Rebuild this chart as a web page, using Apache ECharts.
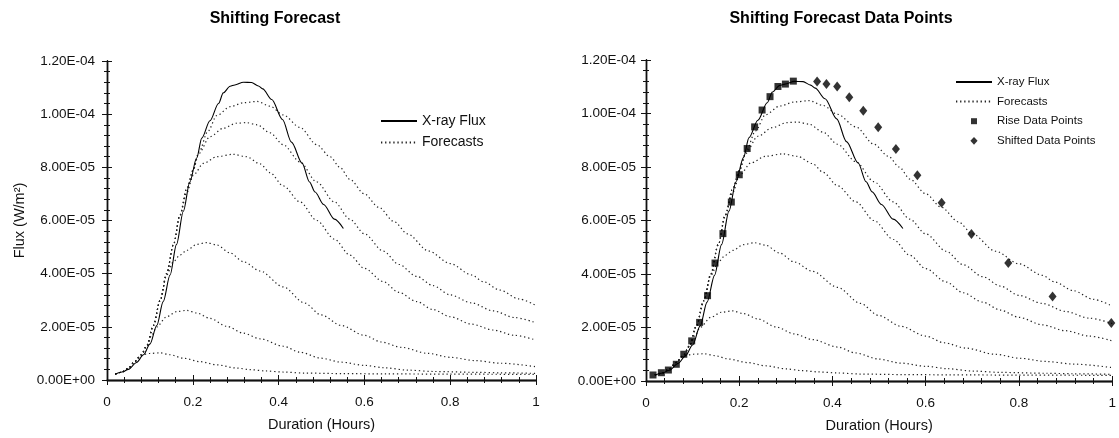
<!DOCTYPE html>
<html>
<head>
<meta charset="utf-8">
<script src="https://cdn.jsdelivr.net/npm/echarts@6/dist/echarts.min.js"></script>
<style>html,body{margin:0;padding:0;background:#fff}#c{width:1119px;height:438px}</style>
</head>
<body>
<div id="c"></div>
<script>
// Values: x = duration (hours), y = flux in units of 1e-5 W/m^2
const xTicks = [0, 0.2, 0.4, 0.6, 0.8, 1];
const yTicks = [0, 2, 4, 6, 8, 10, 12]; // ×1e-5

const xrayFlux = [[0.019,0.22],[0.035,0.3],[0.05,0.4],[0.069,0.66],[0.085,0.95],[0.1,1.35],[0.116,2.05],[0.131,2.95],[0.147,3.95],[0.162,5.1],[0.178,6.35],[0.193,7.45],[0.209,8.35],[0.221,9.1],[0.24,9.75],[0.26,10.4],[0.271,10.8],[0.287,11.05],[0.298,11.1],[0.318,11.2],[0.337,11.19],[0.353,11.06],[0.363,10.95],[0.384,10.55],[0.409,9.8],[0.43,8.95],[0.455,8.15],[0.472,7.45],[0.485,7.07],[0.505,6.6],[0.53,6.05],[0.551,5.7]];

const forecast1 = [[0.019,0.22],[0.035,0.3],[0.05,0.45],[0.065,0.7],[0.077,0.9],[0.09,0.97],[0.1,1.0],[0.124,1.02],[0.147,0.95],[0.178,0.82],[0.217,0.69],[0.256,0.57],[0.302,0.45],[0.333,0.39],[0.37,0.34],[0.41,0.3],[0.46,0.26],[0.55,0.24],[0.65,0.23],[0.8,0.22],[1.0,0.21]];
const forecast2 = [[0.019,0.22],[0.035,0.3],[0.05,0.45],[0.065,0.7],[0.08,0.95],[0.093,1.3],[0.105,1.7],[0.116,2.0],[0.139,2.38],[0.162,2.57],[0.186,2.62],[0.209,2.52],[0.24,2.32],[0.279,2.02],[0.318,1.76],[0.357,1.55],[0.411,1.27],[0.449,1.05],[0.499,0.82],[0.546,0.67],[0.6,0.55],[0.647,0.46],[0.701,0.37],[0.763,0.32],[0.857,0.29],[0.919,0.27],[1.0,0.25]];
const forecast3 = [[0.019,0.22],[0.035,0.3],[0.05,0.45],[0.065,0.7],[0.08,0.95],[0.093,1.3],[0.108,2.05],[0.124,3.0],[0.139,3.95],[0.155,4.45],[0.17,4.7],[0.186,4.88],[0.209,5.1],[0.232,5.17],[0.256,5.08],[0.287,4.78],[0.318,4.45],[0.357,4.1],[0.411,3.5],[0.46,2.9],[0.499,2.45],[0.546,2.05],[0.6,1.68],[0.639,1.43],[0.686,1.23],[0.748,1.0],[0.802,0.85],[0.857,0.73],[0.919,0.63],[1.0,0.5]];
const forecast4 = [[0.019,0.22],[0.035,0.3],[0.05,0.45],[0.065,0.7],[0.08,0.95],[0.093,1.3],[0.108,2.05],[0.124,3.0],[0.139,4.0],[0.155,5.1],[0.17,6.2],[0.186,7.05],[0.201,7.7],[0.225,8.15],[0.256,8.4],[0.294,8.49],[0.325,8.4],[0.357,8.13],[0.38,7.8],[0.411,7.3],[0.45,6.7],[0.489,6.0],[0.53,5.3],[0.566,4.7],[0.6,4.2],[0.644,3.7],[0.68,3.3],[0.722,2.95],[0.76,2.65],[0.8,2.38],[0.85,2.1],[0.9,1.88],[0.95,1.68],[1.0,1.5]];
const forecast5 = [[0.019,0.22],[0.035,0.3],[0.05,0.45],[0.065,0.7],[0.08,0.95],[0.093,1.3],[0.108,2.05],[0.124,3.0],[0.139,4.0],[0.155,5.1],[0.17,6.2],[0.186,7.2],[0.201,7.9],[0.213,8.5],[0.24,9.15],[0.271,9.47],[0.302,9.66],[0.325,9.68],[0.35,9.6],[0.38,9.3],[0.411,8.85],[0.45,8.2],[0.489,7.45],[0.53,6.7],[0.566,6.05],[0.6,5.5],[0.644,4.85],[0.68,4.35],[0.722,3.9],[0.76,3.55],[0.8,3.2],[0.85,2.9],[0.9,2.6],[0.95,2.35],[1.0,2.15]];
const forecast6 = [[0.019,0.22],[0.035,0.3],[0.05,0.45],[0.065,0.7],[0.08,0.95],[0.093,1.3],[0.108,2.05],[0.124,3.0],[0.139,4.0],[0.155,5.1],[0.17,6.2],[0.186,7.2],[0.201,7.9],[0.215,8.6],[0.235,9.35],[0.256,9.95],[0.287,10.28],[0.318,10.43],[0.35,10.48],[0.38,10.3],[0.411,9.97],[0.45,9.5],[0.489,8.85],[0.52,8.4],[0.543,8.0],[0.566,7.55],[0.6,7.0],[0.633,6.5],[0.67,5.95],[0.7,5.5],[0.75,4.85],[0.8,4.38],[0.85,3.95],[0.877,3.7],[0.916,3.38],[0.96,3.05],[1.0,2.8]];

const riseDataPoints = [[0.015,0.225],[0.033,0.31],[0.048,0.41],[0.065,0.625],[0.081,1.0],[0.098,1.5],[0.115,2.19],[0.132,3.19],[0.148,4.41],[0.165,5.51],[0.183,6.69],[0.2,7.71],[0.217,8.69],[0.233,9.5],[0.249,10.13],[0.266,10.63],[0.283,11.01],[0.299,11.1],[0.316,11.21]];
const shiftedDataPoints = [[0.367,11.2],[0.387,11.1],[0.41,11.01],[0.436,10.61],[0.466,10.1],[0.498,9.49],[0.536,8.675],[0.582,7.69],[0.634,6.66],[0.698,5.5],[0.777,4.41],[0.872,3.16],[0.998,2.17]];

const forecasts = [forecast1, forecast2, forecast3, forecast4, forecast5, forecast6];

const FONT = '"Liberation Sans", Arial, Helvetica, sans-serif';
const INK = '#111';
const SCALE = 1e-5;

function fmtY(v) {
  const s = (v * SCALE).toExponential(2).toUpperCase();
  return s.replace(/E([+-])(\d)$/, 'E$10$2');
}

function xAxesFor(gi, withName) {
  const base = { gridIndex: gi, type: 'value', min: xTicks[0], max: xTicks[xTicks.length-1], interval: xTicks[1]-xTicks[0], splitLine: { show: false } };
  return [
    Object.assign({}, base, {
      position: 'bottom',
      axisLine: { show: true, lineStyle: { color: INK, width: 1.3 } },
      axisTick: { show: true, inside: true, length: 5, lineStyle: { color: INK } },
      minorTick: { show: true, splitNumber: 5, length: 3, lineStyle: { color: INK } },
      axisLabel: { margin: 15, color: INK, fontSize: 13.5, fontFamily: FONT },
      name: withName, nameLocation: 'middle', nameGap: 37,
      nameTextStyle: { color: INK, fontSize: 14.5, fontFamily: FONT }
    }),
    Object.assign({}, base, {
      position: 'bottom',
      axisLine: { show: true, lineStyle: { color: INK, width: 1.3 } },
      axisTick: { show: true, inside: false, length: 4, lineStyle: { color: INK } },
      axisLabel: { show: false }
    }),
    Object.assign({}, base, {
      position: 'top',
      axisLine: { show: true, lineStyle: { color: INK, width: 1.3 } },
      axisTick: { show: true, inside: true, length: 5, lineStyle: { color: INK } },
      minorTick: { show: true, splitNumber: 5, length: 3, lineStyle: { color: INK } },
      axisLabel: { show: false }
    })
  ];
}
function yAxesFor(gi, name, labelMargin) {
  const base = { gridIndex: gi, type: 'value', min: yTicks[0], max: yTicks[yTicks.length-1], interval: yTicks[1]-yTicks[0], splitLine: { show: false } };
  return [
    Object.assign({}, base, {
      position: 'left',
      axisLine: { show: true, lineStyle: { color: INK, width: 1.3 } },
      axisTick: { show: true, inside: true, length: 5, lineStyle: { color: INK } },
      minorTick: { show: true, splitNumber: 5, length: 3, lineStyle: { color: INK } },
      axisLabel: { margin: labelMargin, color: INK, fontSize: 13.5, fontFamily: FONT, formatter: fmtY },
      name: name, nameLocation: 'middle', nameGap: 80, nameRotate: 90,
      nameTextStyle: { color: INK, fontSize: 14.5, fontFamily: FONT }
    }),
    Object.assign({}, base, {
      position: 'left',
      axisLine: { show: true, lineStyle: { color: INK, width: 1.3 } },
      axisTick: { show: true, inside: false, length: 4, lineStyle: { color: INK } },
      axisLabel: { show: false }
    }),
    Object.assign({}, base, {
      position: 'right',
      axisLine: { show: true, lineStyle: { color: INK, width: 1.3 } },
      axisTick: { show: true, inside: true, length: 5, lineStyle: { color: INK } },
      minorTick: { show: true, splitNumber: 5, length: 3, lineStyle: { color: INK } },
      axisLabel: { show: false }
    })
  ];
}

const dotted = { color: '#222', width: 1.2, type: [1.3, 2.8], cap: 'butt' };
const solid = { color: '#000', width: 1.1 };

function linesFor(gi) {
  const xi = gi * 3, yi = gi * 3;
  const s = [{
    name: 'X-ray Flux', type: 'line', xAxisIndex: xi, yAxisIndex: yi,
    data: xrayFlux, symbol: 'none', smooth: 0.3, smoothMonotone: 'x',
    lineStyle: solid, itemStyle: { color: '#000' }, z: 3
  }];
  forecasts.forEach(f => s.push({
    name: 'Forecasts', type: 'line', xAxisIndex: xi, yAxisIndex: yi,
    data: f, symbol: 'none', smooth: 0.3, smoothMonotone: 'x',
    lineStyle: dotted, itemStyle: { color: '#222' }, z: 2
  }));
  return s;
}

const series = linesFor(0).concat(linesFor(1)).concat([
  { name: 'Rise Data Points', type: 'scatter', xAxisIndex: 3, yAxisIndex: 3, data: riseDataPoints,
    symbol: 'rect', symbolSize: 7, itemStyle: { color: '#000' }, clip: false, z: 4 },
  { name: 'Shifted Data Points', type: 'scatter', xAxisIndex: 3, yAxisIndex: 3, data: shiftedDataPoints,
    symbol: 'diamond', symbolSize: [8, 10], itemStyle: { color: '#000' }, clip: false, z: 4 }
]);

const squareIcon = 'path://M0,0M20,20M5,5L15,5L15,15L5,15Z';
const diamondIcon = 'path://M0,0M20,20M10,3.5L16,10L10,16.5L4,10Z';
const noMarker = { color: 'rgba(0,0,0,0)', borderColor: 'rgba(0,0,0,0)', borderWidth: 0 };

const option = {
  animation: false,
  backgroundColor: '#fff',
  title: [
    { text: 'Shifting Forecast', left: 270, top: 6, textAlign: 'center',
      textStyle: { fontFamily: FONT, fontSize: 16, fontWeight: 'bold', color: '#000' } },
    { text: 'Shifting Forecast Data Points', left: 836, top: 6, textAlign: 'center',
      textStyle: { fontFamily: FONT, fontSize: 16, fontWeight: 'bold', color: '#000' } }
  ],
  legend: [
    { orient: 'vertical', left: 380, top: 114, padding: 0, itemWidth: 36, itemHeight: 14, itemGap: 7.5,
      data: [{ name: 'X-ray Flux', itemStyle: noMarker }, { name: 'Forecasts', itemStyle: noMarker }],
      selectedMode: false,
      textStyle: { fontFamily: FONT, fontSize: 14, color: INK } },
    { orient: 'vertical', left: 955, top: 76, padding: 0, itemWidth: 36, itemHeight: 12, itemGap: 7.6,
      data: [{ name: 'X-ray Flux', itemStyle: noMarker }, { name: 'Forecasts', itemStyle: noMarker },
             { name: 'Rise Data Points', icon: squareIcon },
             { name: 'Shifted Data Points', icon: diamondIcon }],
      selectedMode: false,
      textStyle: { fontFamily: FONT, fontSize: 11.5, color: INK } }
  ],
  grid: [
    { left: 107, top: 61, width: 429, height: 319 },
    { left: 646, top: 60, width: 469, height: 321 }
  ],
  xAxis: xAxesFor(0, 'Duration (Hours)').concat(xAxesFor(1, 'Duration (Hours)')),
  yAxis: yAxesFor(0, 'Flux (W/m²)', 12).concat(yAxesFor(1, '', 10)),
  series: series
};

const chart = echarts.init(document.getElementById('c'), null, { renderer: 'canvas' });
chart.setOption(option);
</script>
</body>
</html>
